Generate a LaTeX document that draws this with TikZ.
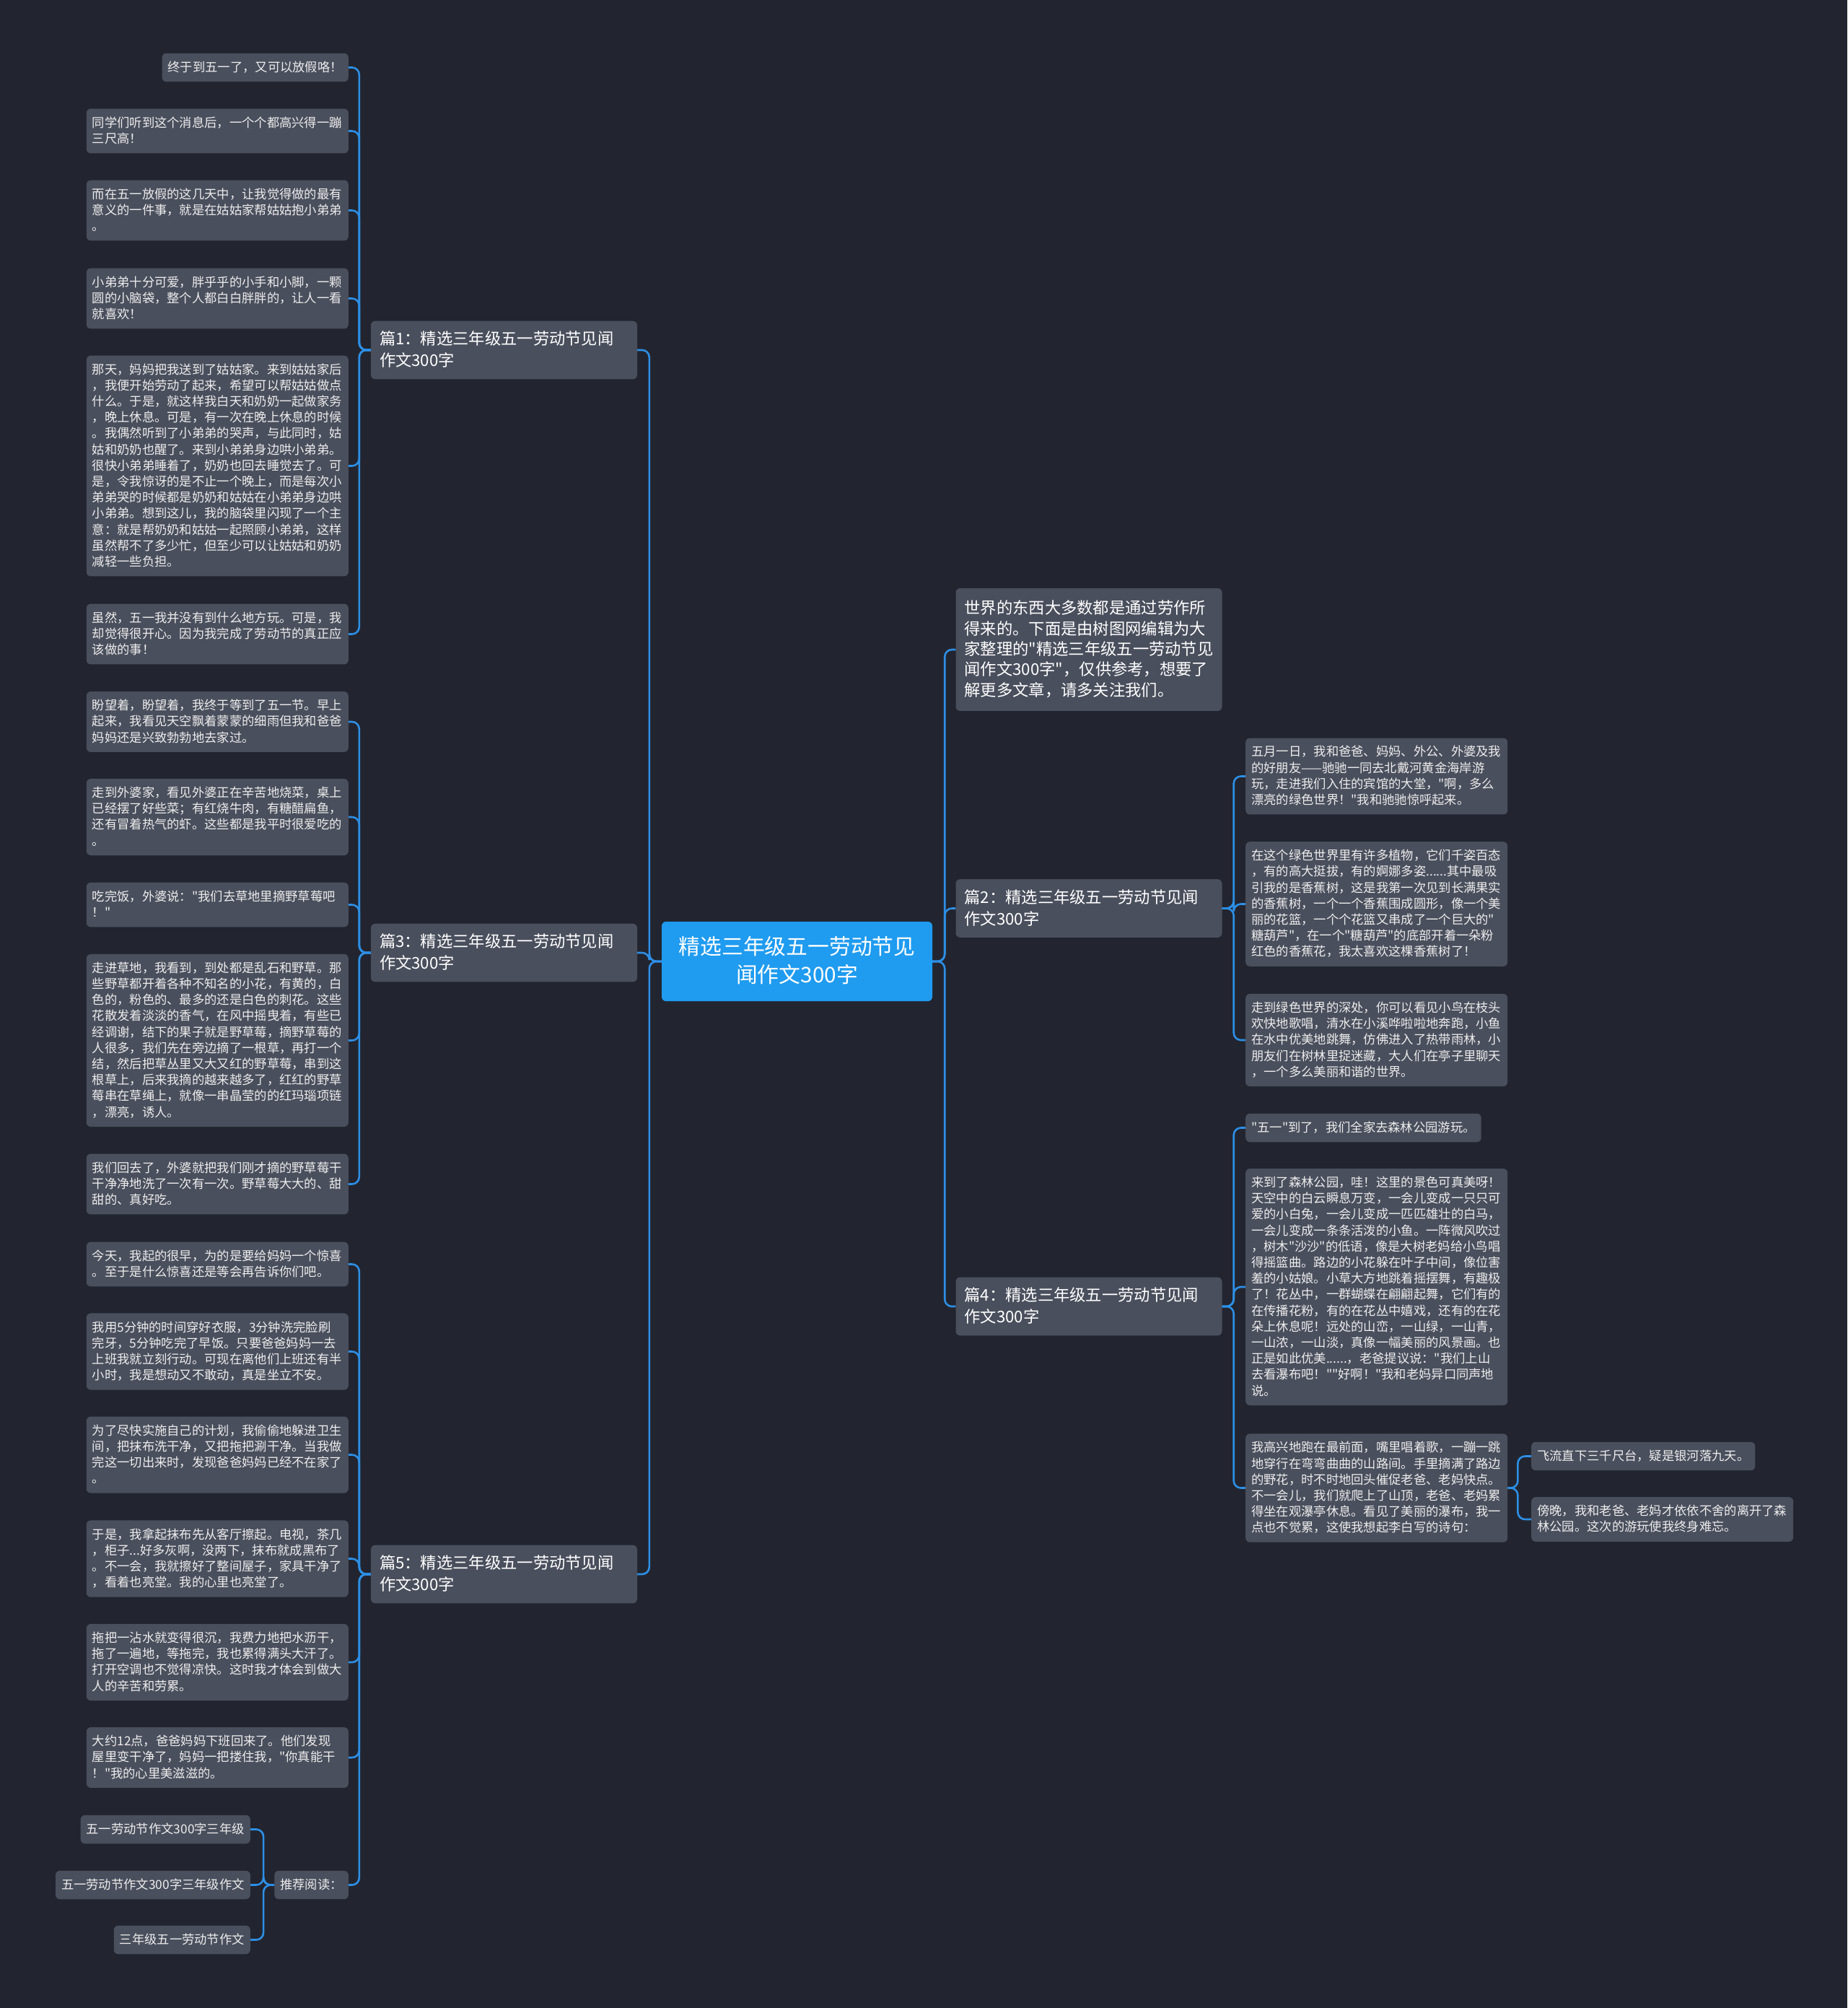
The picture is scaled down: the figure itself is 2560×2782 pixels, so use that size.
\documentclass[tikz,border=0pt]{standalone}
\usepackage{fontspec}
\setmainfont{Noto Sans CJK SC}[Ligatures=TeXOff]

\begin{document}
\begin{tikzpicture}[x=1pt, y=-1pt]

  % Colours
  \definecolor{bgdark}{HTML}{22252F}
  \definecolor{cardgray}{HTML}{4A4F5D}
  \definecolor{rootblue}{HTML}{1F9BF0}
  \definecolor{linkblue}{HTML}{2D8FE6}

  % Styles for the mind map
  \tikzset{
    card/.style={fill=cardgray, rounded corners=6pt, text=white},
    leaf/.style={card, text=white!93!black,
      font=\fontsize{17.3}{22.2}\selectfont,
      inner xsep=8pt, inner ysep=10.9pt,
      execute at begin node={\rule{0pt}{14.5pt}},
      execute at end node={\rule[-3pt]{0pt}{3pt}}},
    para/.style={leaf, text width=347pt, align=left},
    branch/.style={card, font=\fontsize{22.3}{30}\selectfont,
      text width=345pt, align=left, inner xsep=12pt, inner ysep=14pt,
      execute at begin node={\rule{0pt}{18.7pt}},
      execute at end node={\rule[-3.8pt]{0pt}{3.8pt}}},
    intro/.style={branch, font=\fontsize{22.3}{28.3}\selectfont, inner ysep=17pt},
    root/.style={fill=rootblue, rounded corners=6pt, text=white,
      font=\fontsize{29.8}{39}\selectfont,
      text width=330pt, align=center, inner xsep=22.5pt, inner ysep=20.5pt,
      execute at begin node={\rule{0pt}{25pt}},
      execute at end node={\rule[-5pt]{0pt}{5pt}}},
    link/.style={draw=linkblue, line width=2.6pt, rounded corners=10pt}
  }

  \useasboundingbox[fill=bgdark] (0,0) rectangle (2560,2782);

  % Centre and main branches
  \node[root] (root) at (1104.5,1332) {精选三年级五一劳动节见\\闻作文300字};
  \node[branch] (b1) at (698.5,485) {篇1：精选三年级五一劳动节见闻\\作文300字};
  \node[branch] (b3) at (698.5,1320) {篇3：精选三年级五一劳动节见闻\\作文300字};
  \node[branch] (b5) at (698.5,2181) {篇5：精选三年级五一劳动节见闻\\作文300字};
  \node[intro] (intro) at (1509,900) {世界的东西大多数都是通过劳作所\\得来的。下面是由树图网编辑为大\\家整理的"精选三年级五一劳动节见\\闻作文300字"，仅供参考，想要了\\解更多文章，请多关注我们。};
  \node[branch] (b2) at (1509,1258.5) {篇2：精选三年级五一劳动节见闻\\作文300字};
  \node[branch] (b4) at (1509,1810) {篇4：精选三年级五一劳动节见闻\\作文300字};

  % Branch 1 leaves
  \node[leaf, anchor=east] (l1a) at (483,93.5) {终于到五一了，又可以放假咯！};
  \node[para, anchor=east] (l1b) at (483,181.5) {同学们听到这个消息后，一个个都高兴得一蹦\\三尺高！};
  \node[para, anchor=east] (l1c) at (483,291.5) {而在五一放假的这几天中，让我觉得做的最有\\意义的一件事，就是在姑姑家帮姑姑抱小弟弟\\。};
  \node[para, anchor=east] (l1d) at (483,413.5) {小弟弟十分可爱，胖乎乎的小手和小脚，一颗\\圆的小脑袋，整个人都白白胖胖的，让人一看\\就喜欢！};
  \node[para, anchor=east] (l1e) at (483,645.5) {那天，妈妈把我送到了姑姑家。来到姑姑家后\\，我便开始劳动了起来，希望可以帮姑姑做点\\什么。于是，就这样我白天和奶奶一起做家务\\，晚上休息。可是，有一次在晚上休息的时候\\。我偶然听到了小弟弟的哭声，与此同时，姑\\姑和奶奶也醒了。来到小弟弟身边哄小弟弟。\\很快小弟弟睡着了，奶奶也回去睡觉去了。可\\是，令我惊讶的是不止一个晚上，而是每次小\\弟弟哭的时候都是奶奶和姑姑在小弟弟身边哄\\小弟弟。想到这儿，我的脑袋里闪现了一个主\\意：就是帮奶奶和姑姑一起照顾小弟弟，这样\\虽然帮不了多少忙，但至少可以让姑姑和奶奶\\减轻一些负担。};
  \node[para, anchor=east] (l1f) at (483,878.5) {虽然，五一我并没有到什么地方玩。可是，我\\却觉得很开心。因为我完成了劳动节的真正应\\该做的事！};

  % Branch 3 leaves
  \node[para, anchor=east] (l3a) at (483,1000) {盼望着，盼望着，我终于等到了五一节。早上\\起来，我看见天空飘着蒙蒙的细雨但我和爸爸\\妈妈还是兴致勃勃地去家过。};
  \node[para, anchor=east] (l3b) at (483,1132) {走到外婆家，看见外婆正在辛苦地烧菜，桌上\\已经摆了好些菜；有红烧牛肉，有糖醋扁鱼，\\还有冒着热气的虾。这些都是我平时很爱吃的\\。};
  \node[para, anchor=east] (l3c) at (483,1253.5) {吃完饭，外婆说："我们去草地里摘野草莓吧\\！"};
  \node[para, anchor=east] (l3d) at (483,1441.5) {走进草地，我看到，到处都是乱石和野草。那\\些野草都开着各种不知名的小花，有黄的，白\\色的，粉色的、最多的还是白色的刺花。这些\\花散发着淡淡的香气，在风中摇曳着，有些已\\经调谢，结下的果子就是野草莓，摘野草莓的\\人很多，我们先在旁边摘了一根草，再打一个\\结，然后把草丛里又大又红的野草莓，串到这\\根草上，后来我摘的越来越多了，红红的野草\\莓串在草绳上，就像一串晶莹的的红玛瑙项链\\，漂亮，诱人。};
  \node[para, anchor=east] (l3e) at (483,1640.5) {我们回去了，外婆就把我们刚才摘的野草莓干\\干净净地洗了一次有一次。野草莓大大的、甜\\甜的、真好吃。};

  % Branch 5 leaves
  \node[para, anchor=east] (l5a) at (483,1751.5) {今天，我起的很早，为的是要给妈妈一个惊喜\\。至于是什么惊喜还是等会再告诉你们吧。};
  \node[para, anchor=east] (l5b) at (483,1872.5) {我用5分钟的时间穿好衣服，3分钟洗完脸刷\\完牙，5分钟吃完了早饭。只要爸爸妈妈一去\\上班我就立刻行动。可现在离他们上班还有半\\小时，我是想动又不敢动，真是坐立不安。};
  \node[para, anchor=east] (l5c) at (483,2015.5) {为了尽快实施自己的计划，我偷偷地躲进卫生\\间，把抹布洗干净，又把拖把涮干净。当我做\\完这一切出来时，发现爸爸妈妈已经不在家了\\。};
  \node[para, anchor=east] (l5d) at (483,2159.5) {于是，我拿起抹布先从客厅擦起。电视，茶几\\，柜子...好多灰啊，没两下，抹布就成黑布了\\。不一会，我就擦好了整间屋子，家具干净了\\，看着也亮堂。我的心里也亮堂了。};
  \node[para, anchor=east] (l5e) at (483,2303) {拖把一沾水就变得很沉，我费力地把水沥干，\\拖了一遍地，等拖完，我也累得满头大汗了。\\打开空调也不觉得凉快。这时我才体会到做大\\人的辛苦和劳累。};
  \node[para, anchor=east] (l5f) at (483,2435) {大约12点，爸爸妈妈下班回来了。他们发现\\屋里变干净了，妈妈一把搂住我，"你真能干\\！"我的心里美滋滋的。};
  \node[leaf, anchor=east] (l5g) at (483,2611.5) {推荐阅读：};
  \node[leaf, anchor=east] (r1) at (347,2534.5) {五一劳动节作文300字三年级};
  \node[leaf, anchor=east] (r2) at (347,2611.5) {五一劳动节作文300字三年级作文};
  \node[leaf, anchor=east] (r3) at (347,2687.5) {三年级五一劳动节作文};

  % Branch 2 leaves
  \node[para, anchor=west] (l2a) at (1726,1075.5) {五月一日，我和爸爸、妈妈、外公、外婆及我\\的好朋友——驰驰一同去北戴河黄金海岸游\\玩，走进我们入住的宾馆的大堂，"啊，多么\\漂亮的绿色世界！"我和驰驰惊呼起来。};
  \node[para, anchor=west] (l2b) at (1726,1252.5) {在这个绿色世界里有许多植物，它们千姿百态\\，有的高大挺拔，有的婀娜多姿......其中最吸\\引我的是香蕉树，这是我第一次见到长满果实\\的香蕉树，一个一个香蕉围成圆形，像一个美\\丽的花篮，一个个花篮又串成了一个巨大的"\\糖葫芦"，在一个"糖葫芦"的底部开着一朵粉\\红色的香蕉花，我太喜欢这棵香蕉树了！};
  \node[para, anchor=west] (l2c) at (1726,1441) {走到绿色世界的深处，你可以看见小鸟在枝头\\欢快地歌唱，清水在小溪哗啦啦地奔跑，小鱼\\在水中优美地跳舞，仿佛进入了热带雨林，小\\朋友们在树林里捉迷藏，大人们在亭子里聊天\\，一个多么美丽和谐的世界。};

  % Branch 4 leaves
  \node[leaf, anchor=west] (l4a) at (1726,1562.5) {"五一"到了，我们全家去森林公园游玩。};
  \node[para, anchor=west] (l4b) at (1726,1783) {来到了森林公园，哇！这里的景色可真美呀！\\天空中的白云瞬息万变，一会儿变成一只只可\\爱的小白兔，一会儿变成一匹匹雄壮的白马，\\一会儿变成一条条活泼的小鱼。一阵微风吹过\\，树木"沙沙"的低语，像是大树老妈给小鸟唱\\得摇篮曲。路边的小花躲在叶子中间，像位害\\羞的小姑娘。小草大方地跳着摇摆舞，有趣极\\了！花丛中，一群蝴蝶在翩翩起舞，它们有的\\在传播花粉，有的在花丛中嬉戏，还有的在花\\朵上休息呢！远处的山峦，一山绿，一山青，\\一山浓，一山淡，真像一幅美丽的风景画。也\\正是如此优美......，老爸提议说："我们上山\\去看瀑布吧！""好啊！"我和老妈异口同声地\\说。};
  \node[para, anchor=west] (l4c) at (1726,2061.5) {我高兴地跑在最前面，嘴里唱着歌，一蹦一跳\\地穿行在弯弯曲曲的山路间。手里摘满了路边\\的野花，时不时地回头催促老爸、老妈快点。\\不一会儿，我们就爬上了山顶，老爸、老妈累\\得坐在观瀑亭休息。看见了美丽的瀑布，我一\\点也不觉累，这使我想起李白写的诗句：};
  \node[leaf, anchor=west] (c1) at (2122,2017.5) {飞流直下三千尺台，疑是银河落九天。};
  \node[para, anchor=west] (c2) at (2122,2105) {傍晚，我和老爸、老妈才依依不舍的离开了森\\林公园。这次的游玩使我终身难忘。};

  % Connectors
  \foreach \n in {b1,b3,b5}
    \draw[link] (root.west) -- ++(-17,0) |- (\n.east);
  \foreach \n in {intro,b2,b4}
    \draw[link] (root.east) -- ++(17,0) |- (\n.west);
  \foreach \n in {l1a,l1b,l1c,l1d,l1e,l1f}
    \draw[link] (b1.west) -- ++(-16,0) |- (\n.east);
  \foreach \n in {l3a,l3b,l3c,l3d,l3e}
    \draw[link] (b3.west) -- ++(-16,0) |- (\n.east);
  \foreach \n in {l5a,l5b,l5c,l5d,l5e,l5f,l5g}
    \draw[link] (b5.west) -- ++(-16,0) |- (\n.east);
  \foreach \n in {r1,r2,r3}
    \draw[link] (l5g.west) -- ++(-15,0) |- (\n.east);
  \foreach \n in {l2a,l2b,l2c}
    \draw[link] (b2.east) -- ++(16,0) |- (\n.west);
  \foreach \n in {l4a,l4b,l4c}
    \draw[link] (b4.east) -- ++(16,0) |- (\n.west);
  \foreach \n in {c1,c2}
    \draw[link] (l4c.east) -- ++(14,0) |- (\n.west);

\end{tikzpicture}
\end{document}
